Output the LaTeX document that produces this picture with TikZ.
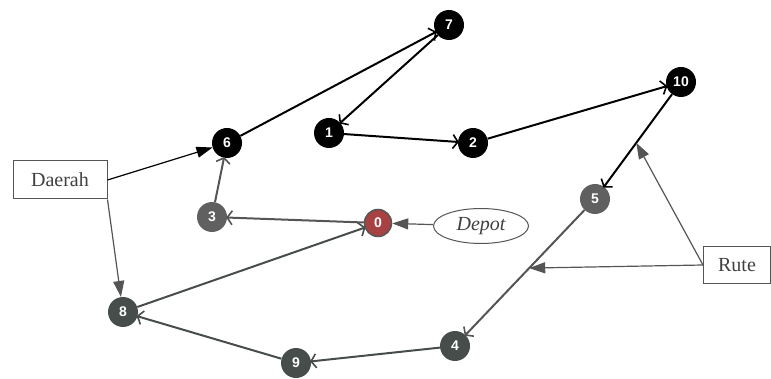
\documentclass[tikz,border=0pt]{standalone}
\usepackage{fontspec}
\setmainfont{Liberation Serif}
\newfontfamily\numfont{Liberation Sans}
\usetikzlibrary{arrows.meta,shapes.geometric,calc}

\definecolor{nodeblack}{HTML}{000000}
\definecolor{nodegray}{HTML}{606060}
\definecolor{nodedark}{HTML}{474D4A}
\definecolor{depotred}{HTML}{A84242}
\definecolor{edgegray}{HTML}{555555}
\definecolor{edgedark}{HTML}{474D4A}

\tikzset{
  city/.style={circle, minimum size=30pt, inner sep=0pt, text=white,
    font=\numfont\bfseries\fontsize{14}{14}\selectfont},
  blackcity/.style={city, fill=nodeblack},
  graycity/.style={city, fill=nodegray},
  darkcity/.style={city, fill=nodedark},
  depotcity/.style={city, minimum size=27pt, fill=depotred, draw=edgegray, line width=1.5pt},
  route/.style={line width=2pt, -{Straight Barb[length=5pt,width=14pt,line width=1.6pt]}, shorten >=-1pt},
  callout/.style={line width=1.2pt, -{Triangle[length=16pt,width=11pt]}},
  labelbox/.style={draw=edgegray, line width=1pt, fill=white, minimum width=94pt, minimum height=38pt,
    font=\fontsize{20}{20}\selectfont, text=black!75},
}

\begin{document}
\begin{tikzpicture}[x=1pt, y=-1pt]
  \useasboundingbox (0,0) rectangle (771,379);

  % cities
  \node[blackcity] (n7)  at (449,25)  {7};
  \node[blackcity] (n1)  at (329,133) {1};
  \node[blackcity] (n2)  at (473,143) {2};
  \node[blackcity] (n10) at (681,82)  {10};
  \node[blackcity] (n6)  at (227,143) {6};
  \node[graycity]  (n3)  at (212,217) {3};
  \node[graycity]  (n5)  at (595,199) {5};
  \node[darkcity]  (n8)  at (123,312) {8};
  \node[darkcity]  (n9)  at (296,363) {9};
  \node[darkcity]  (n4)  at (455,346) {4};
  \node[depotcity] (n0)  at (378,223) {0};

  % labels
  \node[labelbox] (daerah) at (60,180) {Daerah};
  \node[labelbox, minimum width=67pt, minimum height=37pt] (rute) at (737,265) {Rute};
  \node[ellipse, draw=edgegray, line width=1pt, fill=white, minimum width=95pt, minimum height=35pt,
        inner sep=0pt, font=\itshape\fontsize{20}{20}\selectfont, text=black!75] (depot) at (481,226) {Depot};

  % route
  \draw[route, color=black] (n6) -- (n7);
  \draw[route, color=black] (n7) -- (n1);
  \draw[route, color=black] (n1) -- (n2);
  \draw[route, color=black] (n2) -- (n10);
  \draw[route, color=black] (n10) -- (n5);
  \draw[route, color=edgegray] (n5) -- (n4);
  \draw[route, color=edgedark] (n4) -- (n9);
  \draw[route, color=edgedark] (n9) -- (n8);
  \draw[route, color=edgedark] (n8) -- (n0);
  \draw[route, color=edgegray] (n0) -- (n3);
  \draw[route, color=edgegray] (n3) -- (n6);

  % callouts
  \coordinate (onA) at ($(n10)!0.52!(n5)$);
  \coordinate (onB) at ($(n5)!0.47!(n4)$);
  \draw[callout, color=black] (daerah.east) -- (n6);
  \draw[callout, color=edgegray] (daerah.south east) -- (n8);
  \draw[callout, color=edgegray] (depot) -- (n0);
  \draw[callout, color=edgegray] (rute.west) -- (onA);
  \draw[callout, color=edgegray] (rute.west) -- (onB);
\end{tikzpicture}
\end{document}
